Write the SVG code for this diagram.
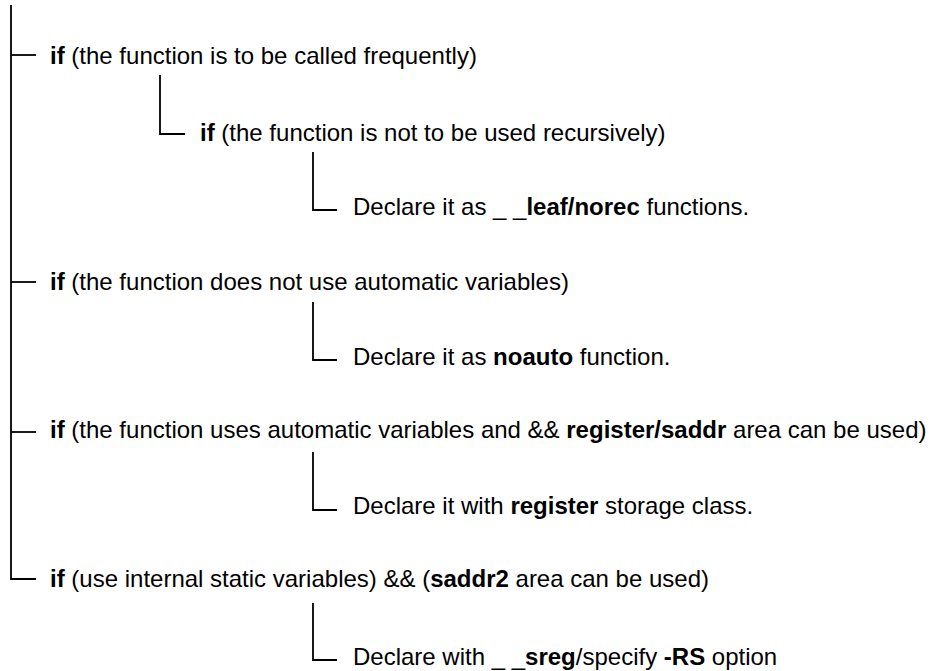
<svg xmlns="http://www.w3.org/2000/svg" width="933" height="671" viewBox="0 0 933 671">
<style>
.t{font-family:"Liberation Sans",Arial,Helvetica,sans-serif;font-size:24px;fill:#000}
.b{font-weight:bold}
.c{fill:none;stroke:#000;stroke-width:1.8}
</style>
<rect width="933" height="671" fill="#fff"/>
<g id="connectors">
<path class="c" d="M11,5 V579 H36"/>
<path class="c" d="M11,55 H36"/>
<path class="c" d="M11,282 H36"/>
<path class="c" d="M11,432 H36"/>
<path class="c" d="M160,75 V134 H185"/>
<path class="c" d="M313,152 V210 H337"/>
<path class="c" d="M313,302 V360 H337"/>
<path class="c" d="M313,452 V510 H337"/>
<path class="c" d="M313,603 V660 H337"/>
</g>
<g id="n1"><text class="t" x="50" y="64"><tspan class="b">if</tspan> (the function is to be called frequently)</text></g>
<g id="n2"><text class="t" x="200" y="141"><tspan class="b">if</tspan> (the function is not to be used recursively)</text></g>
<g id="n3"><text class="t" x="353" y="215">Declare it as _ _<tspan class="b">leaf/norec</tspan> functions.</text></g>
<g id="n4"><text class="t" x="50" y="290"><tspan class="b">if</tspan> (the function does not use automatic variables)</text></g>
<g id="n5"><text class="t" x="353" y="365">Declare it as <tspan class="b">noauto</tspan> function.</text></g>
<g id="n6"><text class="t" x="50" y="438"><tspan class="b">if</tspan> (the function uses automatic variables and &amp;&amp; <tspan class="b">register/saddr</tspan> area can be used)</text></g>
<g id="n7"><text class="t" x="353" y="514">Declare it with <tspan class="b">register</tspan> storage class.</text></g>
<g id="n8"><text class="t" x="50" y="587"><tspan class="b">if</tspan> (use internal static variables) &amp;&amp; (<tspan class="b">saddr2</tspan> area can be used)</text></g>
<g id="n9"><text class="t" x="353" y="665">Declare with _ _<tspan class="b">sreg</tspan>/specify <tspan class="b">-RS</tspan> option</text></g>
</svg>
